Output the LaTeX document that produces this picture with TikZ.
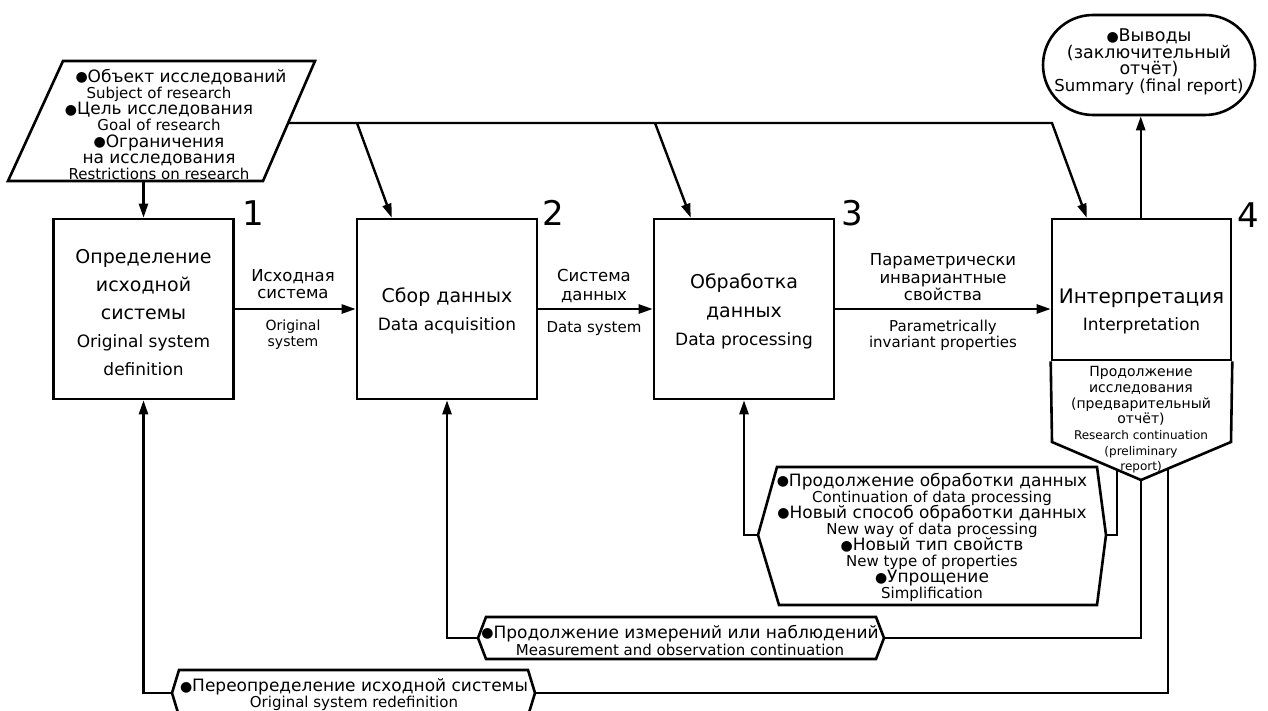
\documentclass[tikz,border=0pt]{standalone}
\usepackage{fontspec}
\setmainfont{DejaVu Sans}
\usetikzlibrary{arrows.meta,calc}
\newcommand\bul{{\fontsize{14}{14}\selectfont\raisebox{0.5pt}{●}}}
\newcommand\setfs[2]{\fontsize{#1}{#2}\selectfont\lineskiplimit=-100pt\relax}
\newcommand\enS{\setfs{15}{16}}
\begin{document}
\begin{tikzpicture}[x=1pt,y=-1pt,
  line width=2.4pt,
  frame/.style={draw, line width=2.6pt, rectangle, minimum width=180pt, minimum height=180pt, inner sep=0pt},
  shp/.style={line width=2.6pt, line join=miter},
  txt/.style={align=center, inner sep=0pt},
  arr/.style={-{Triangle[length=14pt,width=9pt]}},
  num/.style={font=\fontsize{34}{34}\selectfont, inner sep=0pt},
]
\useasboundingbox (0,0) rectangle (1268,711);

% main boxes
\node[frame] (b1) at (143.5,309) {};
\node[frame] (b2) at (447,309) {};
\node[frame] (b3) at (744,309) {};
\node[frame, minimum height=141pt, minimum width=179pt] (b4) at (1141.5,289.5) {};

\node[txt, font=\setfs{19}{28}] (t1) at (143.5,312.5) {Определение\\исходной\\системы\\{\setfs{17}{28}Original system}\\{\setfs{17}{28}definition}};
\node[txt, font=\setfs{19}{28}] (t2) at (447,311) {Сбор данных\\{\setfs{17}{28}Data acquisition}};
\node[txt, font=\setfs{19}{28.5}] (t3) at (744,311.5) {Обработка\\данных\\{\setfs{17}{28}Data processing}};
\node[txt, font=\setfs{20}{27}] (t4) at (1141.5,311.5) {Интерпретация\\{\setfs{17}{27}Interpretation}};

% numbers
\node[num] (n1) at (253,213) {1};
\node[num] (n2) at (553,213) {2};
\node[num] (n3) at (852,213) {3};
\node[num] (n4) at (1248,215) {4};

% pentagon part of box 4
\coordinate (pl) at (1052,442);
\coordinate (ptip) at (1141,480);
\coordinate (pr) at (1231,442);
\draw[shp] (b4.south west) -- (pl) -- (ptip) -- (pr) -- (b4.south east);
\node[txt, font=\setfs{14}{15.7}] (t4b) at (1141,420) {Продолжение\\исследования\\(предварительный\\отчёт)\\{\setfs{12}{15.7}Research continuation}\\{\setfs{12}{15.7}(preliminary}\\{\setfs{12}{15.7}report)}};

% horizontal arrows and labels
\draw[arr] (b1.east) -- (b2.west);
\draw[arr] (b2.east) -- (b3.west);
\draw[arr] (b3.east) -- (b3.east -| b4.west);
\node[txt, font=\setfs{16.5}{17}] (l12r) at (293,284.5) {Исходная\\система};
\node[txt, font=\setfs{14}{16}] (l12e) at (293,335) {Original\\system};
\node[txt, font=\setfs{16.5}{19}] (l23r) at (594,286.5) {Система\\данных};
\node[txt, font=\setfs{15}{16}] (l23e) at (594,329) {Data system};
\node[txt, font=\setfs{16.5}{17.5}] (l34r) at (943,277.5) {Параметрически\\инвариантные\\свойства};
\node[txt, font=\setfs{15}{16}] (l34e) at (943,335) {Parametrically\\invariant properties};

% input parallelogram
\coordinate (pA) at (63,61);
\coordinate (pB) at (315,61);
\coordinate (pC) at (263,181);
\coordinate (pD) at (8,181);
\draw[shp] (pA) -- (pB) -- (pC) -- (pD) -- cycle;
\node[txt, font=\setfs{17}{16.2}] (intxt) at (159,124.5) {\hspace*{44pt}\bul Объект исследований\\{\enS Subject of research}\\\bul Цель исследования\\{\enS Goal of research}\\\bul Ограничения\\на исследования\\{\enS Restrictions on research}};
\coordinate (pbot) at (143.5,181);
\draw[arr] (pbot) -- (b1.north);

% top distribution line
\coordinate (pR) at (288,123);
\coordinate (j1) at (357,123);
\coordinate (j2) at (655,123);
\coordinate (j3) at (1052,123);
\draw[arr] (pR) -- (j3) -- ($(b4.north west)+(36,0)$);
\draw[arr] (j1) -- ($(b2.north west)+(36,0)$);
\draw[arr] (j2) -- ($(b3.north west)+(38,0)$);

% output rounded box
\node[draw, line width=2.6pt, rounded corners=50pt, minimum width=212pt, minimum height=100pt, inner sep=0pt] (out) at (1149,65) {};
\node[txt, font=\setfs{17.5}{16.5}] (outtxt) at (1149,62) {\bul Выводы\\(заключительный\\отчёт)\\{\setfs{16.5}{16.5}Summary (final report)}};
\coordinate (b4up) at ($(b4.north west)+(90,0)$);
\draw[arr] (b4up) -- (b4up |- out.south);

% feedback hexagon 1 (data processing)
\coordinate (h1a) at (777,467);
\coordinate (h1b) at (1097,467);
\coordinate (h1R) at (1106,535);
\coordinate (h1c) at (1097,605);
\coordinate (h1d) at (779,605);
\coordinate (h1L) at (758,535);
\draw[shp] (h1a) -- (h1b) -- (h1R) -- (h1c) -- (h1d) -- (h1L) -- cycle;
\node[txt, font=\setfs{17}{16.1}] (h1t) at (932,537.5) {\bul Продолжение обработки данных\\{\enS Continuation of data processing}\\\bul Новый способ обработки данных\\{\enS New way of data processing}\\\bul Новый тип свойств\\{\enS New type of properties}\\\bul Упрощение\\{\enS Simplification}};
\coordinate (q1) at (1117,469.8);
\draw (q1) |- (h1R);
\draw[arr] (h1L) -| (b3.south);

% feedback hexagon 2 (measurement)
\coordinate (h2a) at (486,617);
\coordinate (h2b) at (876,617);
\coordinate (h2R) at (884,638);
\coordinate (h2c) at (876,659);
\coordinate (h2d) at (486,659);
\coordinate (h2L) at (478,638);
\draw[shp] (h2a) -- (h2b) -- (h2R) -- (h2c) -- (h2d) -- (h2L) -- cycle;
\node[txt, font=\setfs{17}{17}] (h2t) at (680,640) {\bul Продолжение измерений или наблюдений\\{\enS Measurement and observation continuation}};
\draw (ptip) |- (h2R);
\draw[arr] (h2L) -| (b2.south);

% feedback hexagon 3 (redefinition)
\coordinate (h3a) at (179,670);
\coordinate (h3b) at (528,670);
\coordinate (h3R) at (535,693);
\coordinate (h3c) at (528,716);
\coordinate (h3d) at (179,716);
\coordinate (h3L) at (172,693);
\draw[shp] (h3a) -- (h3b) -- (h3R) -- (h3c) -- (h3d) -- (h3L) -- cycle;
\node[txt, font=\setfs{17}{16}] (h3t) at (354,695) {\bul Переопределение исходной системы\\{\enS Original system redefinition}};
\coordinate (q3) at (1168,468.6);
\draw (q3) |- (h3R);
\draw[arr] (h3L) -| (b1.south);
\end{tikzpicture}
\end{document}
